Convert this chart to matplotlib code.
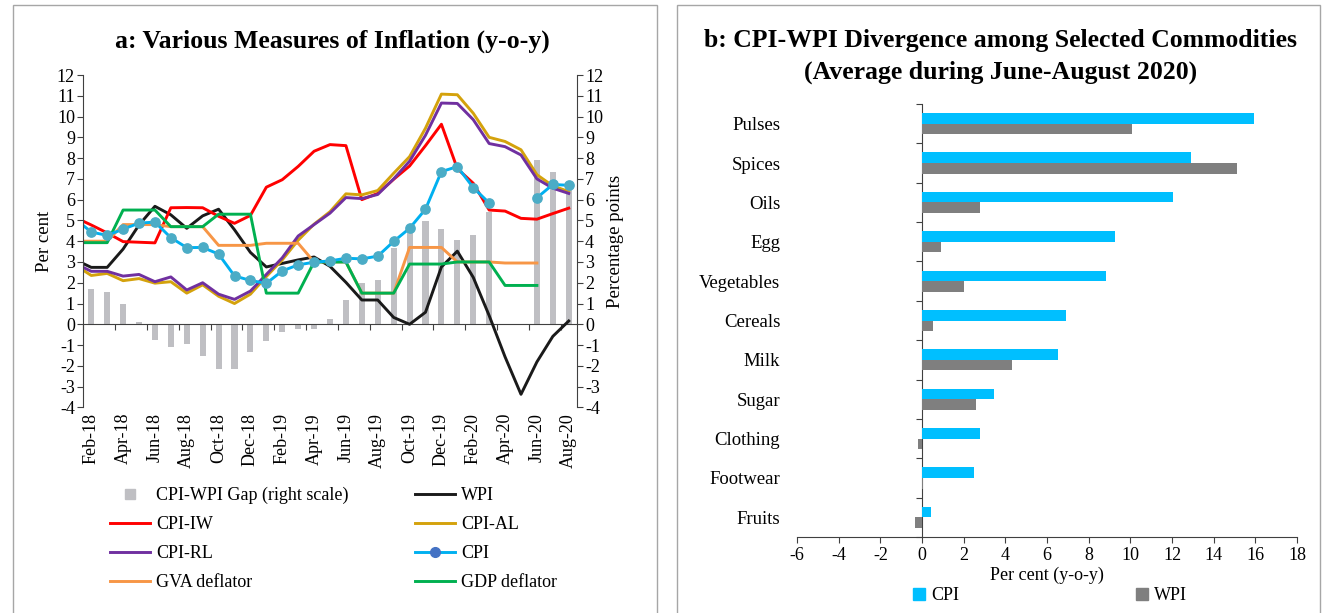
import numpy as np
import pandas as pd
import matplotlib
matplotlib.use('Agg')
import matplotlib.pyplot as plt
from matplotlib.lines import Line2D
from matplotlib.patches import Patch, Rectangle

nan = np.nan

# ---- panel a data (Jan-18 sits just left of the axis, only its joining segment shows)
months = pd.date_range('2018-01-01', '2020-08-01', freq='MS').strftime('%b-%y').tolist()

gap = [nan, 1.70, 1.54, 0.96, 0.09, -0.76, -1.10, -0.93, -1.52, -2.16, -2.15, -1.35,
       -0.79, -0.36, -0.22, -0.25, 0.26, 1.16, 1.98, 2.11, 3.66, 4.55, 4.96, 4.59,
       4.07, 4.32, 5.42, nan, nan, 7.90, 7.31, 6.53]
wpi = [3.10, 2.74, 2.74, 3.62, 4.78, 5.68, 5.27, 4.62, 5.22, 5.54, 4.55, 3.46,
       2.76, 2.93, 3.10, 3.24, 2.79, 2.02, 1.17, 1.17, 0.33, 0.00, 0.58, 2.76,
       3.52, 2.26, 0.42, -1.57, -3.37, -1.81, -0.58, 0.16]
cpi_iw = [5.14, 4.78, 4.40, 3.98, 3.95, 3.92, 5.61, 5.62, 5.61, 5.20, 4.86, 5.24,
          6.60, 6.96, 7.60, 8.33, 8.65, 8.60, 6.00, 6.30, 6.98, 7.62, 8.60, 9.63,
          7.49, 6.79, 5.50, 5.45, 5.10, 5.06, 5.33, 5.59]
cpi_al = [2.85, 2.35, 2.45, 2.10, 2.20, 1.98, 2.05, 1.50, 1.90, 1.35, 1.00, 1.45,
          2.30, 3.10, 4.05, 4.82, 5.42, 6.28, 6.23, 6.44, 7.27, 8.07, 9.44, 11.08,
          11.05, 10.16, 9.00, 8.80, 8.40, 7.20, 6.66, 6.39]
cpi_rl = [2.93, 2.55, 2.55, 2.32, 2.40, 2.05, 2.28, 1.65, 2.00, 1.45, 1.20, 1.60,
          2.40, 3.20, 4.25, 4.80, 5.35, 6.10, 6.05, 6.25, 7.00, 7.85, 9.10, 10.65,
          10.63, 9.85, 8.70, 8.55, 8.15, 7.00, 6.55, 6.30]
cpi = [5.07, 4.44, 4.28, 4.58, 4.87, 4.92, 4.17, 3.69, 3.70, 3.38, 2.33, 2.11,
       1.97, 2.57, 2.86, 2.99, 3.05, 3.18, 3.15, 3.28, 3.99, 4.62, 5.54, 7.35,
       7.59, 6.58, 5.84, nan, nan, 6.09, 6.73, 6.69]
gva = [4.00, 4.00, 4.00, 4.80, 4.80, 4.80, 4.70, 4.70, 4.70, 3.80, 3.80, 3.80,
       3.90, 3.90, 3.90, 3.00, 3.00, 3.00, 1.50, 1.50, 1.50, 3.70, 3.70, 3.70,
       3.00, 3.00, 3.00, 2.95, 2.95, 2.95, nan, nan]
gdp = [3.93, 3.93, 3.93, 5.50, 5.50, 5.50, 4.70, 4.70, 4.70, 5.30, 5.30, 5.30,
       1.50, 1.50, 1.50, 3.00, 3.00, 3.00, 1.50, 1.50, 1.50, 2.90, 2.90, 2.90,
       3.00, 3.00, 3.00, 1.87, 1.87, 1.87, nan, nan]

# ---- panel b data
commodities = ['Pulses', 'Spices', 'Oils', 'Egg', 'Vegetables', 'Cereals', 'Milk',
               'Sugar', 'Clothing', 'Footwear', 'Fruits']
cpi_b = [15.94, 12.90, 12.06, 9.24, 8.84, 6.90, 6.53, 3.47, 2.78, 2.51, 0.41]
wpi_b = [10.08, 15.10, 2.80, 0.92, 2.00, 0.55, 4.31, 2.57, -0.20, 0.03, -0.33]

plt.rcParams['font.family'] = ['Liberation Serif', 'DejaVu Serif']
plt.rcParams['axes.unicode_minus'] = False
plt.rcParams['font.size'] = 13

W, H = 1322, 613
fig = plt.figure(figsize=(W / 100, H / 100), dpi=100)


def fx(px):
  return px / W


def fy(py):
  return 1 - py / H


# panel frames
fig.patches.append(Rectangle((fx(13), fy(640)), fx(657) - fx(13), fy(5) - fy(640),
                             transform=fig.transFigure, fill=False, ec='#A6A6A6', lw=1))
fig.patches.append(Rectangle((fx(677), fy(640)), fx(1320) - fx(677), fy(5) - fy(640),
                             transform=fig.transFigure, fill=False, ec='#A6A6A6', lw=1))

# ================= panel a =================
ax = fig.add_axes([fx(83.3), fy(407.4), fx(576.7) - fx(83.3), fy(75) - fy(407.4)])
ax2 = ax.twinx()
x = np.arange(len(months)) - 1

ax2.bar(x, gap, width=0.38, color='#BFBFC3', label='CPI-WPI Gap (right scale)')
ax.set_zorder(ax2.get_zorder() + 1)
ax.patch.set_visible(False)

lw = 2.1
ax.plot(x, wpi, color='#1A1A1A', lw=lw)
ax.plot(x, cpi_iw, color='#FF0000', lw=lw)
ax.plot(x, cpi_al, color='#D4A20C', lw=lw)
ax.plot(x, cpi_rl, color='#7030A0', lw=lw)
ax.plot(x, gva, color='#F79646', lw=lw)
ax.plot(x, gdp, color='#00B050', lw=lw)
ax.plot(x, cpi, color='#00B0F0', lw=lw, marker='o', ms=6.7, mfc='#4BACC6', mec='#4BACC6')

for a in (ax, ax2):
  a.set_ylim(-4, 12)
  a.set_yticks(range(-4, 13))
  a.spines['top'].set_visible(False)
  a.spines['bottom'].set_visible(False)
  a.tick_params(axis='y', length=4, direction='out', color='#404040', pad=2, labelsize=13)
ax.spines['right'].set_visible(False)
ax2.spines['left'].set_visible(False)
ax.spines['left'].set_color('#404040')
ax2.spines['right'].set_color('#404040')

ax.set_xlim(-0.5, 30.5)
ax.set_xticks(x[1::2])
ax.set_xticklabels(months[1::2], rotation=90)
ax.tick_params(axis='x', length=0, pad=4, labelsize=13)

# zero line with category tick marks
zero_ax = ax.secondary_xaxis(0.25)
zero_ax.set_xticks(np.arange(-0.5, 31, 2))
zero_ax.tick_params(axis='x', length=4, direction='out', labelbottom=False, color='#404040')
zero_ax.spines['bottom'].set_color('#404040')

ax.set_ylabel('Per cent', fontsize=13.5, labelpad=3)
ax2.set_ylabel('Percentage points', fontsize=13.5, labelpad=3)

fig.text(fx(332), fy(41), 'a: Various Measures of Inflation (y-o-y)', ha='center', va='center',
         fontsize=18.5, fontweight='bold')

handles = [
  Line2D([], [], color='#BFBFC3', marker='s', ls='none', ms=7),
  Line2D([], [], color='#FF0000', lw=lw),
  Line2D([], [], color='#7030A0', lw=lw),
  Line2D([], [], color='#F79646', lw=lw),
  Line2D([], [], color='#1A1A1A', lw=lw),
  Line2D([], [], color='#D4A20C', lw=lw),
  Line2D([], [], color='#00B0F0', lw=lw, marker='o', ms=7, mfc='#4472C4', mec='#4472C4'),
  Line2D([], [], color='#00B050', lw=lw),
]
labels = ['CPI-WPI Gap (right scale)', 'CPI-IW', 'CPI-RL', 'GVA deflator',
          'WPI', 'CPI-AL', 'CPI', 'GDP deflator']
fig.legend(handles, labels, ncol=2, loc='upper left', bbox_to_anchor=(fx(110), fy(487)),
           frameon=False, fontsize=13, handlelength=2.2, handletextpad=0.35,
           columnspacing=3.7, labelspacing=0.66, borderaxespad=0, borderpad=0)

# ================= panel b =================
axb = fig.add_axes([fx(797), fy(537), fx(1297) - fx(797), fy(104) - fy(537)])
yy = np.arange(len(commodities))
axb.barh(yy - 0.135, cpi_b, height=0.27, color='#00BFFF', label='CPI')
axb.barh(yy + 0.135, wpi_b, height=0.27, color='#7F7F7F', label='WPI')
axb.set_ylim(len(commodities) - 0.5, -0.5)
axb.set_xlim(-6, 18)
axb.set_xticks(range(-6, 19, 2))
axb.set_yticks(yy)
axb.set_yticklabels(commodities, fontsize=13.5)
axb.tick_params(axis='y', length=0, pad=12)
axb.tick_params(axis='x', length=4, direction='out', color='#404040', pad=3, labelsize=13)
for s in ('top', 'right', 'left'):
  axb.spines[s].set_visible(False)
axb.spines['bottom'].set_color('#404040')

zero_b = axb.secondary_yaxis(0.25)
zero_b.set_yticks(np.arange(-0.5, len(commodities), 1))
zero_b.tick_params(axis='y', length=4, direction='out', labelleft=False, color='#404040')
zero_b.spines['left'].set_color('#404040')

axb.set_xlabel('Per cent (y-o-y)', fontsize=13, labelpad=2)

fig.text(fx(1001), fy(40), 'b: CPI-WPI Divergence among Selected Commodities', ha='center',
         va='center', fontsize=18.5, fontweight='bold')
fig.text(fx(1001), fy(72), '(Average during June-August 2020)', ha='center',
         va='center', fontsize=18.5, fontweight='bold')

fig.legend([Patch(color='#00BFFF'), Patch(color='#7F7F7F')], ['CPI', 'WPI'], ncol=2,
           loc='center', bbox_to_anchor=(fx(1050), fy(596)), frameon=False, fontsize=13,
           handlelength=0.65, handleheight=0.65, handletextpad=0.35, columnspacing=9.8,
           borderaxespad=0, borderpad=0)

fig.savefig('out.png', dpi=100)
